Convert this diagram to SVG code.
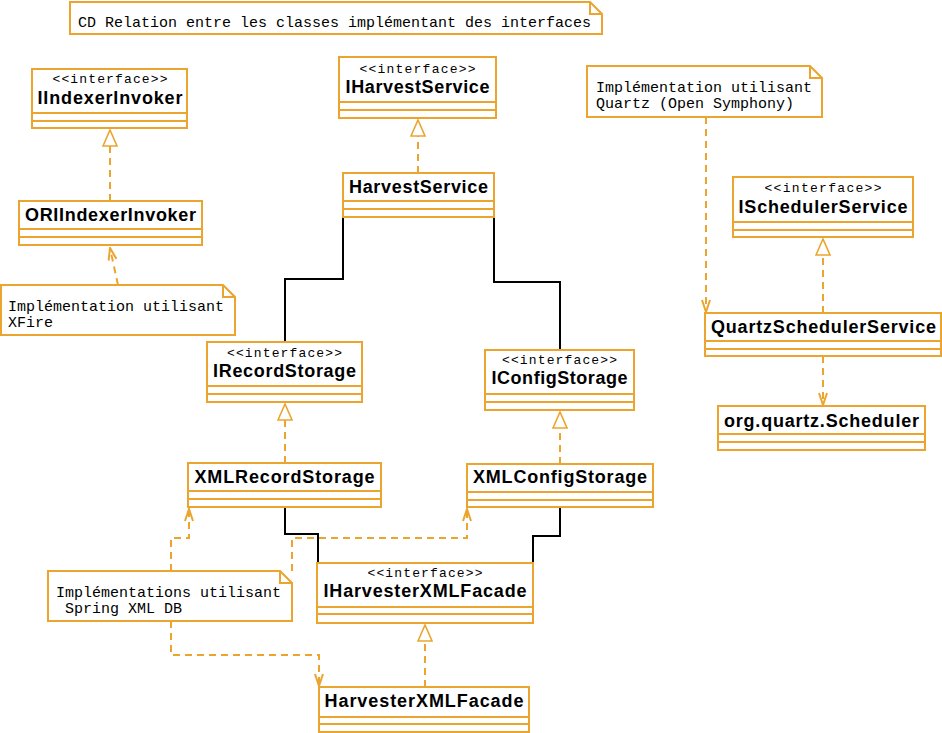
<svg xmlns="http://www.w3.org/2000/svg" width="942" height="733" viewBox="0 0 942 733">
<style>
.box{fill:#fff;stroke:#EBA52E;stroke-width:2}
.sep{fill:none;stroke:#EBA52E;stroke-width:2}
.dash{fill:none;stroke:#EBA52E;stroke-width:2;stroke-dasharray:7 5}
.assoc{fill:none;stroke:#000;stroke-width:2}
.name{font-family:"Liberation Sans",Arial,sans-serif;font-weight:bold;font-size:18px;text-anchor:middle;fill:#000}
.stereo{font-family:"Liberation Mono","Courier New",monospace;font-size:13px;text-anchor:middle;fill:#000}
.nt{font-family:"Liberation Mono","Courier New",monospace;font-size:15px;fill:#000}
</style>
<defs>
<marker id="real" viewBox="0 0 18 16" refX="17" refY="8" markerWidth="18" markerHeight="16" markerUnits="userSpaceOnUse" orient="auto">
<path d="M1,1 L17,8 L1,15 Z" fill="#fff" stroke="#EBA52E" stroke-width="1.6" stroke-dasharray="none"/>
</marker>
<marker id="dep" viewBox="0 0 14 10" refX="13" refY="5" markerWidth="14" markerHeight="10" markerUnits="userSpaceOnUse" orient="auto">
<path d="M1,1 L13,5 L1,9" fill="none" stroke="#EBA52E" stroke-width="2" stroke-dasharray="none"/>
</marker>
</defs>
<rect width="942" height="733" fill="#fff"/>

<g id="connectors">
<path class="dash" d="M110,201 V130" marker-end="url(#real)"/>
<path class="dash" d="M418,173 V120" marker-end="url(#real)"/>
<path class="dash" d="M285,463 V404" marker-end="url(#real)"/>
<path class="dash" d="M560,464 V412" marker-end="url(#real)"/>
<path class="dash" d="M425,687 V625" marker-end="url(#real)"/>
<path class="dash" d="M823,313 V239" marker-end="url(#real)"/>
<path class="dash" d="M118,285 L110,248" marker-end="url(#dep)"/>
<path class="dash" d="M706,117 V312" marker-end="url(#dep)"/>
<path class="dash" d="M823,356 V405" marker-end="url(#dep)"/>
<path class="dash" d="M171,571 V538 H189 V509" marker-end="url(#dep)"/>
<path class="dash" d="M292,571 V538 H467 V509" marker-end="url(#dep)"/>
<path class="dash" d="M171,621 V655 H319 V686" marker-end="url(#dep)"/>
<path class="assoc" d="M343,217 V279 H285 V342"/>
<path class="assoc" d="M494,217 V282 H560 V350"/>
<path class="assoc" d="M285,507 V534 H318 V563"/>
<path class="assoc" d="M560,507 V536 H533 V563"/>
</g>

<g id="note-title">
<path class="box" d="M70,2 H590 L602,14 V34 H70 Z"/>
<path class="sep" d="M590,2 V14 H602"/>
<text class="nt" x="78" y="27">CD Relation entre les classes implémentant des interfaces</text>
</g>

<g id="IIndexerInvoker">
<rect class="box" x="32" y="69" width="155" height="59"/>
<path class="sep" d="M32,113 H187 M32,121 H187"/>
<text class="stereo" x="110" y="83" textLength="115">&lt;&lt;interface&gt;&gt;</text>
<text class="name" x="110" y="104" textLength="145">IIndexerInvoker</text>
</g>

<g id="ORIIndexerInvoker">
<rect class="box" x="19" y="201" width="183" height="44"/>
<path class="sep" d="M19,229 H202 M19,237 H202"/>
<text class="name" x="110.5" y="221" textLength="171">ORIIndexerInvoker</text>
</g>

<g id="note-xfire">
<path class="box" d="M1,285 H223 L235,297 V335 H1 Z"/>
<path class="sep" d="M223,285 V297 H235"/>
<text class="nt" x="8" y="311">Implémentation utilisant</text>
<text class="nt" x="8" y="327">XFire</text>
</g>

<g id="IHarvestService">
<rect class="box" x="339" y="57" width="157" height="61"/>
<path class="sep" d="M339,102 H496 M339,110 H496"/>
<text class="stereo" x="417.5" y="73" textLength="116">&lt;&lt;interface&gt;&gt;</text>
<text class="name" x="417.5" y="93" textLength="144">IHarvestService</text>
</g>

<g id="HarvestService">
<rect class="box" x="343" y="173" width="151" height="44"/>
<path class="sep" d="M343,201 H494 M343,209 H494"/>
<text class="name" x="418.5" y="193" textLength="139">HarvestService</text>
</g>

<g id="IRecordStorage">
<rect class="box" x="207" y="342" width="155" height="60"/>
<path class="sep" d="M207,386 H362 M207,394 H362"/>
<text class="stereo" x="284.5" y="357" textLength="115">&lt;&lt;interface&gt;&gt;</text>
<text class="name" x="284.5" y="377" textLength="143">IRecordStorage</text>
</g>

<g id="IConfigStorage">
<rect class="box" x="485" y="350" width="149" height="60"/>
<path class="sep" d="M485,394 H634 M485,402 H634"/>
<text class="stereo" x="559.5" y="364" textLength="115">&lt;&lt;interface&gt;&gt;</text>
<text class="name" x="559.5" y="384" textLength="136">IConfigStorage</text>
</g>

<g id="XMLRecordStorage">
<rect class="box" x="188" y="463" width="193" height="44"/>
<path class="sep" d="M188,491 H381 M188,499 H381"/>
<text class="name" x="284.5" y="483" textLength="180">XMLRecordStorage</text>
</g>

<g id="XMLConfigStorage">
<rect class="box" x="467" y="464" width="186" height="43"/>
<path class="sep" d="M467,492 H653 M467,500 H653"/>
<text class="name" x="560" y="483" textLength="174">XMLConfigStorage</text>
</g>

<g id="note-spring">
<path class="box" d="M48,571 H280 L292,583 V621 H48 Z"/>
<path class="sep" d="M280,571 V583 H292"/>
<text class="nt" x="56" y="597">Implémentations utilisant</text>
<text class="nt" x="65" y="613">Spring XML DB</text>
</g>

<g id="IHarvesterXMLFacade">
<rect class="box" x="317" y="563" width="216" height="60"/>
<path class="sep" d="M317,607 H533 M317,614 H533"/>
<text class="stereo" x="425" y="577" textLength="115">&lt;&lt;interface&gt;&gt;</text>
<text class="name" x="425" y="597" textLength="203">IHarvesterXMLFacade</text>
</g>

<g id="HarvesterXMLFacade">
<rect class="box" x="319" y="687" width="210" height="45"/>
<path class="sep" d="M319,717 H529 M319,724 H529"/>
<text class="name" x="424" y="707" textLength="199">HarvesterXMLFacade</text>
</g>

<g id="note-quartz">
<path class="box" d="M587,66 H810 L822,78 V117 H587 Z"/>
<path class="sep" d="M810,66 V78 H822"/>
<text class="nt" x="596" y="92">Implémentation utilisant</text>
<text class="nt" x="596" y="108">Quartz (Open Symphony)</text>
</g>

<g id="ISchedulerService">
<rect class="box" x="733" y="177" width="180" height="60"/>
<path class="sep" d="M733,222 H913 M733,230 H913"/>
<text class="stereo" x="823" y="192" textLength="117">&lt;&lt;interface&gt;&gt;</text>
<text class="name" x="823" y="213" textLength="169">ISchedulerService</text>
</g>

<g id="QuartzSchedulerService">
<rect class="box" x="705" y="313" width="236" height="43"/>
<path class="sep" d="M705,341 H941 M705,349 H941"/>
<text class="name" x="823.5" y="333" textLength="225">QuartzSchedulerService</text>
</g>

<g id="org.quartz.Scheduler">
<rect class="box" x="718" y="406" width="207" height="44"/>
<path class="sep" d="M718,434 H925 M718,442 H925"/>
<text class="name" x="821.5" y="427" textLength="195">org.quartz.Scheduler</text>
</g>
</svg>
